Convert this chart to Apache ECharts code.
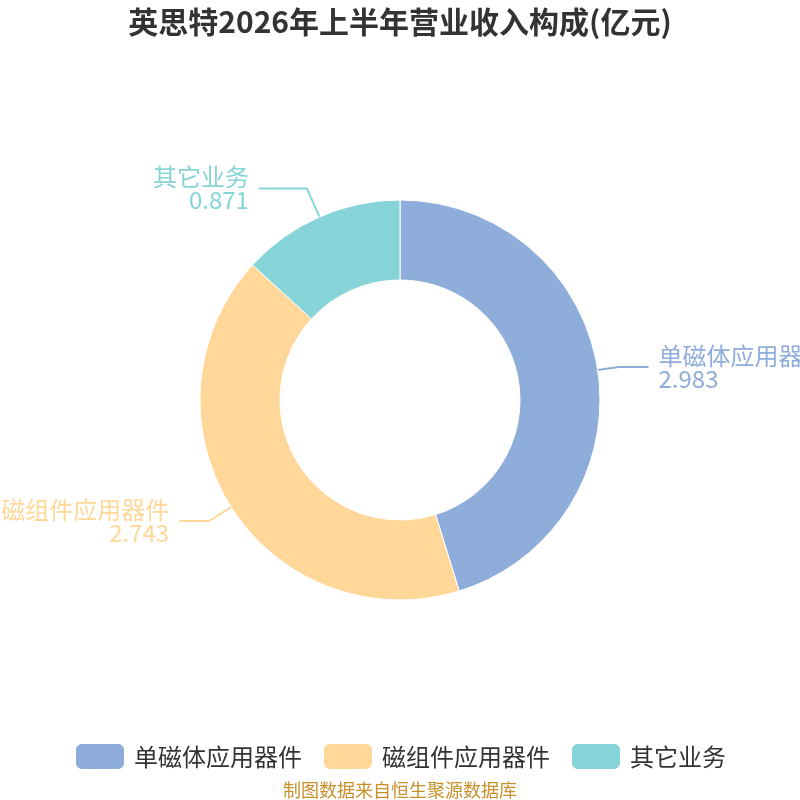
<!DOCTYPE html>
<html><head><meta charset="utf-8">
<script src="https://cdn.jsdelivr.net/npm/echarts@6/dist/echarts.min.js"></script>
<style>html,body{margin:0;padding:0;background:#fff}#c{width:800px;height:800px}</style>
</head><body><div id="c"></div>
<script>
const categories = ['单磁体应用器件', '磁组件应用器件', '其它业务'];
const values = [2.983, 2.743, 0.871];
const colors = ['#8eadda', '#ffd899', '#86d4d7'];
const titleText = '英思特2026年上半年营业收入构成(亿元)';
const sourceText = '制图数据来自恒生聚源数据库';
// per-slice label line lengths [first segment, second segment]
const lineLengths = [[21, 30], [26, 30], [31, 48]];

const chart = echarts.init(document.getElementById('c'));
chart.setOption({
  animation: false,
  color: colors,
  title: [{
    text: titleText, left: 'center', top: 2,
    textStyle: {fontSize: 30, fontWeight: 'bold', color: '#333', fontFamily: 'Noto Sans CJK SC'}
  }, {
    text: sourceText, left: 'center', top: 776,
    textStyle: {fontSize: 18, fontWeight: 'normal', color: '#c8902a', fontFamily: 'Noto Sans CJK SC'}
  }],
  legend: {
    top: 742, left: 'center', itemWidth: 50, itemHeight: 27, itemGap: 20,
    icon: 'roundRect', padding: 0,
    textStyle: {fontSize: 24, color: '#333', fontFamily: 'Noto Sans CJK SC', padding: [0, 0, 0, 4]},
    data: categories
  },
  series: [{
    type: 'pie', center: [400, 400], radius: [120, 200], startAngle: 90, clockwise: true,
    data: categories.map((n, i) => ({
      name: n, value: values[i],
      labelLine: {length: lineLengths[i][0], length2: lineLengths[i][1]}
    })),
    label: {
      formatter: '{b}\n{c}', fontSize: 24, lineHeight: 23, overflow: 'none',
      distanceToLabelLine: 10,
      color: 'inherit', fontFamily: 'Noto Sans CJK SC'
    },
    labelLine: {lineStyle: {width: 2}},
    itemStyle: {borderColor: '#fff', borderWidth: 1}
  }]
});
</script></body></html>
